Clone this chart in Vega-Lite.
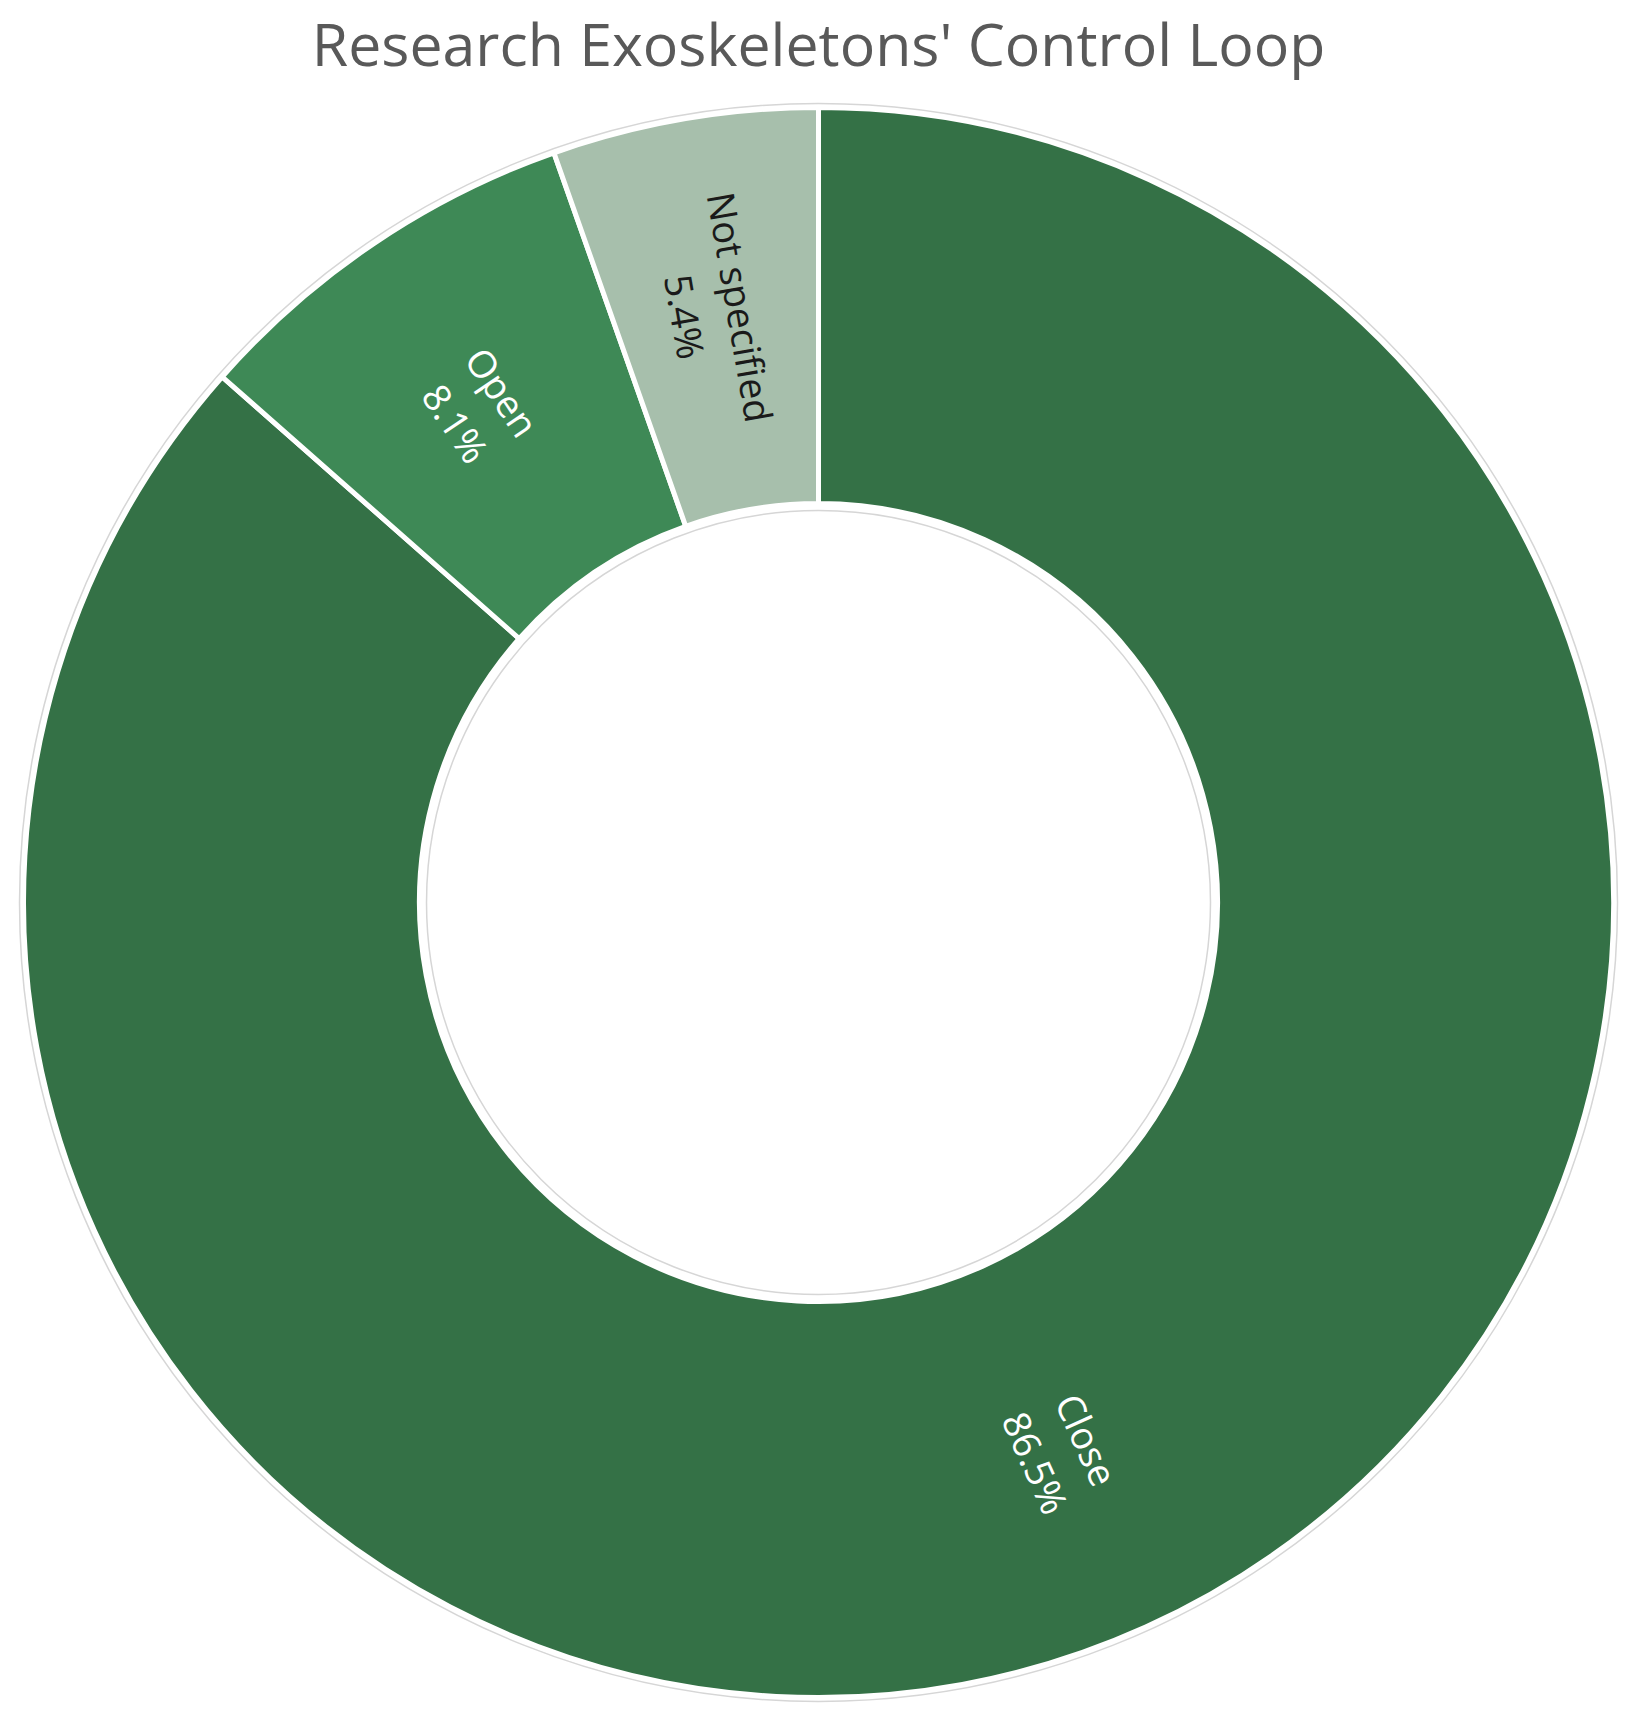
{
  "$schema": "https://vega.github.io/schema/vega-lite/v6.json",
  "width": 1637,
  "height": 1625,
  "autosize": {"type": "none"},
  "padding": {"top": 90, "left": 0, "right": 0, "bottom": 0},
  "background": "white",
  "title": {
    "text": "Research Exoskeletons' Control Loop",
    "font": "Open Sans",
    "fontSize": 59,
    "fontWeight": "normal",
    "color": "#595959",
    "anchor": "middle",
    "offset": 12
  },
  "data": {
    "values": [
      {"cat": "Close", "value": 86.5, "rank": 1},
      {"cat": "Open", "value": 8.1, "rank": 2},
      {"cat": "Not specified", "value": 5.4, "rank": 3}
    ]
  },
  "view": {"stroke": null},
  "layer": [
    {
      "data": {"values": [{"ring": "outer", "area": 2553604}, {"ring": "inner", "area": 614656}]},
      "mark": {"type": "point", "shape": "circle", "filled": false, "stroke": "#d6d6d6", "strokeWidth": 1.5, "opacity": 1},
      "encoding": {"size": {"field": "area", "type": "quantitative", "scale": null}}
    },
    {
      "mark": {"type": "arc", "innerRadius": 399, "outerRadius": 795, "stroke": "white", "strokeWidth": 5},
      "encoding": {
        "theta": {"field": "value", "type": "quantitative", "stack": true},
        "order": {"field": "rank", "type": "quantitative"},
        "color": {
          "field": "cat",
          "type": "nominal",
          "scale": {"domain": ["Close", "Open", "Not specified"], "range": ["#347146", "#3e8956", "#a7bfac"]},
          "legend": null
        }
      }
    },
    {
      "transform": [
        {"window": [{"op": "sum", "field": "value", "as": "cum"}], "sort": [{"field": "rank"}], "frame": [null, 0]},
        {"calculate": "(datum.cum - datum.value / 2) / 100 * 360", "as": "mid"},
        {"calculate": "datum.mid < 180 ? datum.mid - 90 : datum.mid - 270", "as": "ang"},
        {"calculate": "datum.cat + '\\n' + format(datum.value, '.1f') + '%'", "as": "label"}
      ],
      "mark": {"type": "text", "radius": 600, "font": "Open Sans", "fontSize": 38, "lineBreak": "\n", "lineHeight": 56, "align": "center", "baseline": "middle", "dy": -20},
      "encoding": {
        "theta": {"field": "value", "type": "quantitative", "stack": true},
        "order": {"field": "rank", "type": "quantitative"},
        "text": {"field": "label", "type": "nominal"},
        "angle": {"field": "ang", "type": "quantitative", "scale": null},
        "color": {"condition": {"test": "datum.cat === 'Not specified'", "value": "#1a1a1a"}, "value": "white"}
      }
    }
  ]
}
